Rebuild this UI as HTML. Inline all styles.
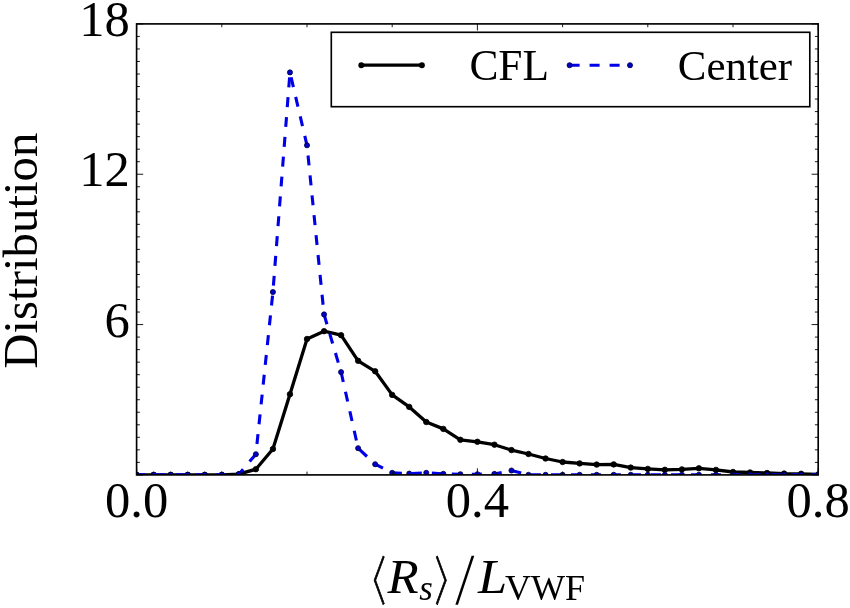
<!DOCTYPE html>
<html><head><meta charset="utf-8"><title>Distribution</title>
<style>
html,body{margin:0;padding:0;background:#fff;}
svg{display:block;}
text{font-family:"Liberation Serif",serif;fill:#000;}
.tick{font-size:50.6px;}
.ylab{font-size:48.9px;}
.leg{font-size:43.4px;}
</style></head><body>
<svg width="850" height="608" viewBox="0 0 850 608">
<rect x="0" y="0" width="850" height="608" fill="#fff"/>
<defs><clipPath id="ax"><rect x="136.6" y="23.9" width="681.6" height="451.0"/></clipPath></defs>
<g clip-path="url(#ax)">
<polyline points="136.60,474.80 153.64,474.80 170.68,474.80 187.72,474.80 204.76,474.80 221.80,474.80 238.84,474.20 255.88,469.20 272.92,449.00 289.96,394.20 307.00,339.00 324.04,331.20 341.08,335.20 358.12,360.80 375.16,371.30 392.20,394.90 409.24,406.90 426.28,422.00 443.32,428.90 460.36,439.80 477.40,441.80 494.44,444.70 511.48,450.10 528.52,454.00 545.56,458.50 562.60,462.00 579.64,463.40 596.68,464.60 613.72,464.40 630.76,467.60 647.80,468.90 664.84,469.80 681.88,469.40 698.92,468.30 715.96,469.90 733.00,472.00 750.04,472.50 767.08,473.00 784.12,473.60 801.16,473.80 818.20,474.50" fill="none" stroke="#000" stroke-width="3.3" stroke-linejoin="round"/>
<circle cx="136.60" cy="474.80" r="2.75" fill="#000" stroke="#000" stroke-width="0.8"/><circle cx="153.64" cy="474.80" r="2.75" fill="#000" stroke="#000" stroke-width="0.8"/><circle cx="170.68" cy="474.80" r="2.75" fill="#000" stroke="#000" stroke-width="0.8"/><circle cx="187.72" cy="474.80" r="2.75" fill="#000" stroke="#000" stroke-width="0.8"/><circle cx="204.76" cy="474.80" r="2.75" fill="#000" stroke="#000" stroke-width="0.8"/><circle cx="221.80" cy="474.80" r="2.75" fill="#000" stroke="#000" stroke-width="0.8"/><circle cx="238.84" cy="474.20" r="2.75" fill="#000" stroke="#000" stroke-width="0.8"/><circle cx="255.88" cy="469.20" r="2.75" fill="#000" stroke="#000" stroke-width="0.8"/><circle cx="272.92" cy="449.00" r="2.75" fill="#000" stroke="#000" stroke-width="0.8"/><circle cx="289.96" cy="394.20" r="2.75" fill="#000" stroke="#000" stroke-width="0.8"/><circle cx="307.00" cy="339.00" r="2.75" fill="#000" stroke="#000" stroke-width="0.8"/><circle cx="324.04" cy="331.20" r="2.75" fill="#000" stroke="#000" stroke-width="0.8"/><circle cx="341.08" cy="335.20" r="2.75" fill="#000" stroke="#000" stroke-width="0.8"/><circle cx="358.12" cy="360.80" r="2.75" fill="#000" stroke="#000" stroke-width="0.8"/><circle cx="375.16" cy="371.30" r="2.75" fill="#000" stroke="#000" stroke-width="0.8"/><circle cx="392.20" cy="394.90" r="2.75" fill="#000" stroke="#000" stroke-width="0.8"/><circle cx="409.24" cy="406.90" r="2.75" fill="#000" stroke="#000" stroke-width="0.8"/><circle cx="426.28" cy="422.00" r="2.75" fill="#000" stroke="#000" stroke-width="0.8"/><circle cx="443.32" cy="428.90" r="2.75" fill="#000" stroke="#000" stroke-width="0.8"/><circle cx="460.36" cy="439.80" r="2.75" fill="#000" stroke="#000" stroke-width="0.8"/><circle cx="477.40" cy="441.80" r="2.75" fill="#000" stroke="#000" stroke-width="0.8"/><circle cx="494.44" cy="444.70" r="2.75" fill="#000" stroke="#000" stroke-width="0.8"/><circle cx="511.48" cy="450.10" r="2.75" fill="#000" stroke="#000" stroke-width="0.8"/><circle cx="528.52" cy="454.00" r="2.75" fill="#000" stroke="#000" stroke-width="0.8"/><circle cx="545.56" cy="458.50" r="2.75" fill="#000" stroke="#000" stroke-width="0.8"/><circle cx="562.60" cy="462.00" r="2.75" fill="#000" stroke="#000" stroke-width="0.8"/><circle cx="579.64" cy="463.40" r="2.75" fill="#000" stroke="#000" stroke-width="0.8"/><circle cx="596.68" cy="464.60" r="2.75" fill="#000" stroke="#000" stroke-width="0.8"/><circle cx="613.72" cy="464.40" r="2.75" fill="#000" stroke="#000" stroke-width="0.8"/><circle cx="630.76" cy="467.60" r="2.75" fill="#000" stroke="#000" stroke-width="0.8"/><circle cx="647.80" cy="468.90" r="2.75" fill="#000" stroke="#000" stroke-width="0.8"/><circle cx="664.84" cy="469.80" r="2.75" fill="#000" stroke="#000" stroke-width="0.8"/><circle cx="681.88" cy="469.40" r="2.75" fill="#000" stroke="#000" stroke-width="0.8"/><circle cx="698.92" cy="468.30" r="2.75" fill="#000" stroke="#000" stroke-width="0.8"/><circle cx="715.96" cy="469.90" r="2.75" fill="#000" stroke="#000" stroke-width="0.8"/><circle cx="733.00" cy="472.00" r="2.75" fill="#000" stroke="#000" stroke-width="0.8"/><circle cx="750.04" cy="472.50" r="2.75" fill="#000" stroke="#000" stroke-width="0.8"/><circle cx="767.08" cy="473.00" r="2.75" fill="#000" stroke="#000" stroke-width="0.8"/><circle cx="784.12" cy="473.60" r="2.75" fill="#000" stroke="#000" stroke-width="0.8"/><circle cx="801.16" cy="473.80" r="2.75" fill="#000" stroke="#000" stroke-width="0.8"/><circle cx="818.20" cy="474.50" r="2.75" fill="#000" stroke="#000" stroke-width="0.8"/>
<polyline points="136.60,474.80 153.64,474.80 170.68,474.80 187.72,474.80 204.76,474.80 221.80,474.80 238.84,474.20 255.88,454.20 272.92,292.00 289.96,72.40" fill="none" stroke="#0000e8" stroke-width="3.1" stroke-dasharray="9.95 9.95" stroke-dashoffset="0.55"/>
<polyline points="289.96,72.40 307.00,145.30 324.04,314.40 341.08,372.10 358.12,448.20 375.16,464.20 392.20,472.80 409.24,473.60 426.28,472.80 443.32,473.80 460.36,474.20 477.40,474.20 494.44,473.90 511.48,470.50 528.52,474.80 545.56,474.80 562.60,474.80 579.64,474.80 596.68,474.80 613.72,474.80 630.76,474.80 647.80,474.80 664.84,474.80 681.88,474.80 698.92,474.80 715.96,474.80 733.00,474.80 750.04,474.80 767.08,474.80 784.12,474.80 801.16,474.80 818.20,474.80" fill="none" stroke="#0000e8" stroke-width="3.1" stroke-dasharray="10 10" stroke-dashoffset="14.9" stroke-linejoin="round"/>
<circle cx="136.60" cy="474.80" r="2.55" fill="#0000c8" stroke="#000040" stroke-width="0.8"/><circle cx="153.64" cy="474.80" r="2.55" fill="#0000c8" stroke="#000040" stroke-width="0.8"/><circle cx="170.68" cy="474.80" r="2.55" fill="#0000c8" stroke="#000040" stroke-width="0.8"/><circle cx="187.72" cy="474.80" r="2.55" fill="#0000c8" stroke="#000040" stroke-width="0.8"/><circle cx="204.76" cy="474.80" r="2.55" fill="#0000c8" stroke="#000040" stroke-width="0.8"/><circle cx="221.80" cy="474.80" r="2.55" fill="#0000c8" stroke="#000040" stroke-width="0.8"/><circle cx="238.84" cy="474.20" r="2.55" fill="#0000c8" stroke="#000040" stroke-width="0.8"/><circle cx="255.88" cy="454.20" r="2.55" fill="#0000c8" stroke="#000040" stroke-width="0.8"/><circle cx="272.92" cy="292.00" r="2.55" fill="#0000c8" stroke="#000040" stroke-width="0.8"/><circle cx="289.96" cy="72.40" r="2.55" fill="#0000c8" stroke="#000040" stroke-width="0.8"/><circle cx="307.00" cy="145.30" r="2.55" fill="#0000c8" stroke="#000040" stroke-width="0.8"/><circle cx="324.04" cy="314.40" r="2.55" fill="#0000c8" stroke="#000040" stroke-width="0.8"/><circle cx="341.08" cy="372.10" r="2.55" fill="#0000c8" stroke="#000040" stroke-width="0.8"/><circle cx="358.12" cy="448.20" r="2.55" fill="#0000c8" stroke="#000040" stroke-width="0.8"/><circle cx="375.16" cy="464.20" r="2.55" fill="#0000c8" stroke="#000040" stroke-width="0.8"/><circle cx="392.20" cy="472.80" r="2.55" fill="#0000c8" stroke="#000040" stroke-width="0.8"/><circle cx="409.24" cy="473.60" r="2.55" fill="#0000c8" stroke="#000040" stroke-width="0.8"/><circle cx="426.28" cy="472.80" r="2.55" fill="#0000c8" stroke="#000040" stroke-width="0.8"/><circle cx="443.32" cy="473.80" r="2.55" fill="#0000c8" stroke="#000040" stroke-width="0.8"/><circle cx="460.36" cy="474.20" r="2.55" fill="#0000c8" stroke="#000040" stroke-width="0.8"/><circle cx="477.40" cy="474.20" r="2.55" fill="#0000c8" stroke="#000040" stroke-width="0.8"/><circle cx="494.44" cy="473.90" r="2.55" fill="#0000c8" stroke="#000040" stroke-width="0.8"/><circle cx="511.48" cy="470.50" r="2.55" fill="#0000c8" stroke="#000040" stroke-width="0.8"/><circle cx="528.52" cy="474.80" r="2.55" fill="#0000c8" stroke="#000040" stroke-width="0.8"/><circle cx="545.56" cy="474.80" r="2.55" fill="#0000c8" stroke="#000040" stroke-width="0.8"/><circle cx="562.60" cy="474.80" r="2.55" fill="#0000c8" stroke="#000040" stroke-width="0.8"/><circle cx="579.64" cy="474.80" r="2.55" fill="#0000c8" stroke="#000040" stroke-width="0.8"/><circle cx="596.68" cy="474.80" r="2.55" fill="#0000c8" stroke="#000040" stroke-width="0.8"/><circle cx="613.72" cy="474.80" r="2.55" fill="#0000c8" stroke="#000040" stroke-width="0.8"/><circle cx="630.76" cy="474.80" r="2.55" fill="#0000c8" stroke="#000040" stroke-width="0.8"/><circle cx="647.80" cy="474.80" r="2.55" fill="#0000c8" stroke="#000040" stroke-width="0.8"/><circle cx="664.84" cy="474.80" r="2.55" fill="#0000c8" stroke="#000040" stroke-width="0.8"/><circle cx="681.88" cy="474.80" r="2.55" fill="#0000c8" stroke="#000040" stroke-width="0.8"/><circle cx="698.92" cy="474.80" r="2.55" fill="#0000c8" stroke="#000040" stroke-width="0.8"/><circle cx="715.96" cy="474.80" r="2.55" fill="#0000c8" stroke="#000040" stroke-width="0.8"/><circle cx="733.00" cy="474.80" r="2.55" fill="#0000c8" stroke="#000040" stroke-width="0.8"/><circle cx="750.04" cy="474.80" r="2.55" fill="#0000c8" stroke="#000040" stroke-width="0.8"/><circle cx="767.08" cy="474.80" r="2.55" fill="#0000c8" stroke="#000040" stroke-width="0.8"/><circle cx="784.12" cy="474.80" r="2.55" fill="#0000c8" stroke="#000040" stroke-width="0.8"/><circle cx="801.16" cy="474.80" r="2.55" fill="#0000c8" stroke="#000040" stroke-width="0.8"/><circle cx="818.20" cy="474.80" r="2.55" fill="#0000c8" stroke="#000040" stroke-width="0.8"/>
</g>
<!-- axes -->
<g stroke="#000" stroke-width="0.9"><line x1="136.60" y1="474.9" x2="136.60" y2="468.29999999999995"/><line x1="136.60" y1="23.9" x2="136.60" y2="30.5"/><line x1="221.80" y1="474.9" x2="221.80" y2="471.59999999999997"/><line x1="221.80" y1="23.9" x2="221.80" y2="27.2"/><line x1="307.00" y1="474.9" x2="307.00" y2="471.59999999999997"/><line x1="307.00" y1="23.9" x2="307.00" y2="27.2"/><line x1="392.20" y1="474.9" x2="392.20" y2="471.59999999999997"/><line x1="392.20" y1="23.9" x2="392.20" y2="27.2"/><line x1="477.40" y1="474.9" x2="477.40" y2="468.29999999999995"/><line x1="477.40" y1="23.9" x2="477.40" y2="30.5"/><line x1="562.60" y1="474.9" x2="562.60" y2="471.59999999999997"/><line x1="562.60" y1="23.9" x2="562.60" y2="27.2"/><line x1="647.80" y1="474.9" x2="647.80" y2="471.59999999999997"/><line x1="647.80" y1="23.9" x2="647.80" y2="27.2"/><line x1="733.00" y1="474.9" x2="733.00" y2="471.59999999999997"/><line x1="733.00" y1="23.9" x2="733.00" y2="27.2"/><line x1="818.20" y1="474.9" x2="818.20" y2="468.29999999999995"/><line x1="818.20" y1="23.9" x2="818.20" y2="30.5"/><line x1="136.6" y1="474.90" x2="143.2" y2="474.90"/><line x1="818.2" y1="474.90" x2="811.6" y2="474.90"/><line x1="136.6" y1="462.37" x2="139.9" y2="462.37"/><line x1="818.2" y1="462.37" x2="814.9000000000001" y2="462.37"/><line x1="136.6" y1="449.84" x2="139.9" y2="449.84"/><line x1="818.2" y1="449.84" x2="814.9000000000001" y2="449.84"/><line x1="136.6" y1="437.32" x2="139.9" y2="437.32"/><line x1="818.2" y1="437.32" x2="814.9000000000001" y2="437.32"/><line x1="136.6" y1="424.79" x2="139.9" y2="424.79"/><line x1="818.2" y1="424.79" x2="814.9000000000001" y2="424.79"/><line x1="136.6" y1="412.26" x2="139.9" y2="412.26"/><line x1="818.2" y1="412.26" x2="814.9000000000001" y2="412.26"/><line x1="136.6" y1="399.73" x2="139.9" y2="399.73"/><line x1="818.2" y1="399.73" x2="814.9000000000001" y2="399.73"/><line x1="136.6" y1="387.21" x2="139.9" y2="387.21"/><line x1="818.2" y1="387.21" x2="814.9000000000001" y2="387.21"/><line x1="136.6" y1="374.68" x2="139.9" y2="374.68"/><line x1="818.2" y1="374.68" x2="814.9000000000001" y2="374.68"/><line x1="136.6" y1="362.15" x2="139.9" y2="362.15"/><line x1="818.2" y1="362.15" x2="814.9000000000001" y2="362.15"/><line x1="136.6" y1="349.62" x2="139.9" y2="349.62"/><line x1="818.2" y1="349.62" x2="814.9000000000001" y2="349.62"/><line x1="136.6" y1="337.09" x2="139.9" y2="337.09"/><line x1="818.2" y1="337.09" x2="814.9000000000001" y2="337.09"/><line x1="136.6" y1="324.57" x2="143.2" y2="324.57"/><line x1="818.2" y1="324.57" x2="811.6" y2="324.57"/><line x1="136.6" y1="312.04" x2="139.9" y2="312.04"/><line x1="818.2" y1="312.04" x2="814.9000000000001" y2="312.04"/><line x1="136.6" y1="299.51" x2="139.9" y2="299.51"/><line x1="818.2" y1="299.51" x2="814.9000000000001" y2="299.51"/><line x1="136.6" y1="286.98" x2="139.9" y2="286.98"/><line x1="818.2" y1="286.98" x2="814.9000000000001" y2="286.98"/><line x1="136.6" y1="274.46" x2="139.9" y2="274.46"/><line x1="818.2" y1="274.46" x2="814.9000000000001" y2="274.46"/><line x1="136.6" y1="261.93" x2="139.9" y2="261.93"/><line x1="818.2" y1="261.93" x2="814.9000000000001" y2="261.93"/><line x1="136.6" y1="249.40" x2="139.9" y2="249.40"/><line x1="818.2" y1="249.40" x2="814.9000000000001" y2="249.40"/><line x1="136.6" y1="236.87" x2="139.9" y2="236.87"/><line x1="818.2" y1="236.87" x2="814.9000000000001" y2="236.87"/><line x1="136.6" y1="224.34" x2="139.9" y2="224.34"/><line x1="818.2" y1="224.34" x2="814.9000000000001" y2="224.34"/><line x1="136.6" y1="211.82" x2="139.9" y2="211.82"/><line x1="818.2" y1="211.82" x2="814.9000000000001" y2="211.82"/><line x1="136.6" y1="199.29" x2="139.9" y2="199.29"/><line x1="818.2" y1="199.29" x2="814.9000000000001" y2="199.29"/><line x1="136.6" y1="186.76" x2="139.9" y2="186.76"/><line x1="818.2" y1="186.76" x2="814.9000000000001" y2="186.76"/><line x1="136.6" y1="174.23" x2="143.2" y2="174.23"/><line x1="818.2" y1="174.23" x2="811.6" y2="174.23"/><line x1="136.6" y1="161.71" x2="139.9" y2="161.71"/><line x1="818.2" y1="161.71" x2="814.9000000000001" y2="161.71"/><line x1="136.6" y1="149.18" x2="139.9" y2="149.18"/><line x1="818.2" y1="149.18" x2="814.9000000000001" y2="149.18"/><line x1="136.6" y1="136.65" x2="139.9" y2="136.65"/><line x1="818.2" y1="136.65" x2="814.9000000000001" y2="136.65"/><line x1="136.6" y1="124.12" x2="139.9" y2="124.12"/><line x1="818.2" y1="124.12" x2="814.9000000000001" y2="124.12"/><line x1="136.6" y1="111.59" x2="139.9" y2="111.59"/><line x1="818.2" y1="111.59" x2="814.9000000000001" y2="111.59"/><line x1="136.6" y1="99.07" x2="139.9" y2="99.07"/><line x1="818.2" y1="99.07" x2="814.9000000000001" y2="99.07"/><line x1="136.6" y1="86.54" x2="139.9" y2="86.54"/><line x1="818.2" y1="86.54" x2="814.9000000000001" y2="86.54"/><line x1="136.6" y1="74.01" x2="139.9" y2="74.01"/><line x1="818.2" y1="74.01" x2="814.9000000000001" y2="74.01"/><line x1="136.6" y1="61.48" x2="139.9" y2="61.48"/><line x1="818.2" y1="61.48" x2="814.9000000000001" y2="61.48"/><line x1="136.6" y1="48.96" x2="139.9" y2="48.96"/><line x1="818.2" y1="48.96" x2="814.9000000000001" y2="48.96"/><line x1="136.6" y1="36.43" x2="139.9" y2="36.43"/><line x1="818.2" y1="36.43" x2="814.9000000000001" y2="36.43"/><line x1="136.6" y1="23.90" x2="143.2" y2="23.90"/><line x1="818.2" y1="23.90" x2="811.6" y2="23.90"/></g>
<rect x="136.6" y="23.9" width="681.6" height="451.0" fill="none" stroke="#000" stroke-width="1.65"/>
<!-- legend -->
<rect x="331.3" y="32.3" width="478.5" height="74.4" fill="#fff" stroke="#000" stroke-width="1.65"/>
<line x1="361.3" y1="65.2" x2="421.9" y2="65.2" stroke="#000" stroke-width="3.3"/>
<circle cx="361.3" cy="65.2" r="2.95" fill="#000"/><circle cx="421.9" cy="65.2" r="2.95" fill="#000"/>
<text class="leg" x="469.4" y="80.4">CFL</text>
<line x1="569.6" y1="65.2" x2="630" y2="65.2" stroke="#0000e8" stroke-width="3.0" stroke-dasharray="10 10"/>
<circle cx="569.6" cy="65.2" r="2.55" fill="#0000c8" stroke="#000040" stroke-width="0.8"/><circle cx="630" cy="65.2" r="2.55" fill="#0000c8" stroke="#000040" stroke-width="0.8"/>
<text class="leg" x="677.8" y="80.4" style="font-size:42.9px">Center</text>
<!-- tick labels -->
<text class="tick" x="129.8" y="35.8" text-anchor="end">18</text>
<text class="tick" x="129.8" y="185.9" text-anchor="end">12</text>
<text class="tick" x="129.8" y="336.5" text-anchor="end">6</text>
<text class="tick" x="136.6" y="517.4" text-anchor="middle">0.0</text>
<text class="tick" x="477.4" y="517.4" text-anchor="middle">0.4</text>
<text class="tick" x="818.2" y="517.4" text-anchor="middle">0.8</text>
<!-- axis labels -->
<text class="ylab" transform="translate(36.7,250.7) rotate(-90)" text-anchor="middle">Distribution</text>
<g id="xlabel">
<text transform="translate(346.8,600.3) scale(0.786,1)" style="font-family:'WenQuanYi Zen Hei','Noto Sans CJK SC',sans-serif;font-size:55px;stroke:#000;stroke-width:0.8px">〈</text>
<text transform="translate(387.5,592.7) scale(1.03,1)" style="font-size:49.5px;font-style:italic">R</text>
<text x="419.3" y="600" style="font-size:34.8px;font-style:italic">s</text>
<text transform="translate(430.4,600.2) scale(0.786,1)" style="font-family:'WenQuanYi Zen Hei','Noto Sans CJK SC',sans-serif;font-size:55px;stroke:#000;stroke-width:0.8px">〉</text>
<text transform="translate(454.4,595.1) scale(0.69,1)" style="font-family:'WenQuanYi Zen Hei','Noto Sans CJK SC',sans-serif;font-size:57.2px">/</text>
<text transform="translate(478,592.8) scale(1.06,1)" style="font-size:49.5px;font-style:italic">L</text>
<text transform="translate(505,600) scale(1.015,1)" style="font-size:35.5px">VWF</text>
</g>
</svg>
</body></html>
